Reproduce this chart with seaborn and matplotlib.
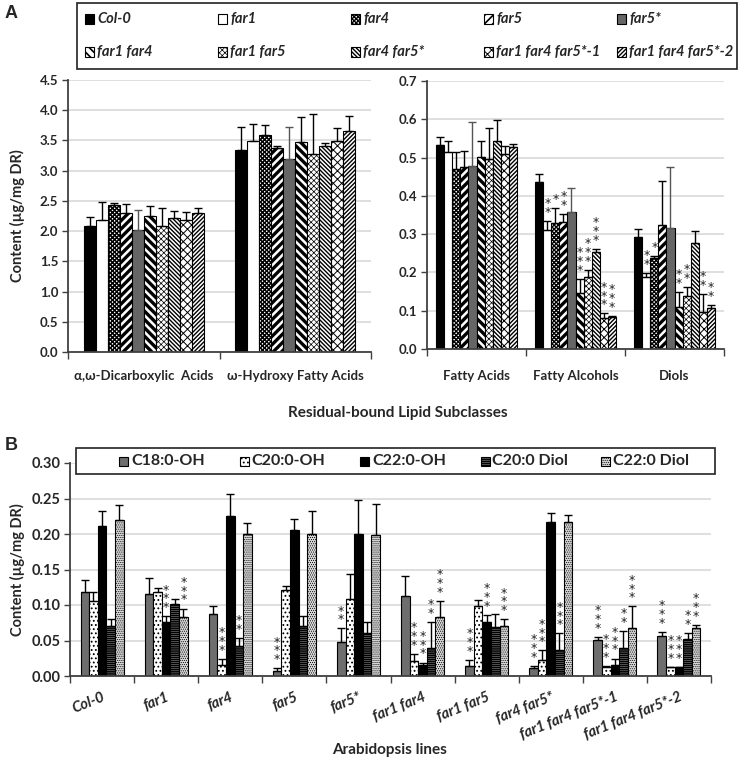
import matplotlib
matplotlib.use('Agg')
import matplotlib.pyplot as plt
import matplotlib.patches as mpatches
import seaborn as sns
import pandas as pd
import numpy as np

# ---- data -------------------------------------------------------------
lines = ['Col-0', 'far1', 'far4', 'far5', 'far5*', 'far1 far4', 'far1 far5',
         'far4 far5*', 'far1 far4 far5*-1', 'far1 far4 far5*-2']

# panel A, left: acids (µg/mg DR)
acid_classes = ['α,ω-Dicarboxylic  Acids', 'ω-Hydroxy Fatty Acids']
dca_mean = [2.09, 2.19, 2.43, 2.30, 2.02, 2.25, 2.09, 2.21, 2.18, 2.30]
dca_err = [0.14, 0.29, 0.04, 0.15, 0.33, 0.17, 0.30, 0.13, 0.13, 0.08]
hfa_mean = [3.34, 3.49, 3.59, 3.37, 3.20, 3.47, 3.27, 3.41, 3.49, 3.65]
hfa_err = [0.39, 0.29, 0.17, 0.03, 0.52, 0.42, 0.67, 0.04, 0.21, 0.25]

# panel A, right
other_classes = ['Fatty Acids', 'Fatty Alcohols', 'Diols']
fa_mean = [0.534, 0.514, 0.470, 0.475, 0.479, 0.502, 0.496, 0.544, 0.509, 0.528]
fa_err = [0.019, 0.030, 0.044, 0.043, 0.114, 0.040, 0.081, 0.053, 0.022, 0.008]
falc_mean = [0.436, 0.312, 0.329, 0.333, 0.357, 0.145, 0.187, 0.253, 0.080, 0.083]
falc_err = [0.021, 0.023, 0.039, 0.019, 0.063, 0.038, 0.020, 0.009, 0.013, 0.003]
falc_sig = ['', '**', '*', '**', '', '***', '***', '***', '***', '***']
diol_mean = [0.293, 0.188, 0.238, 0.325, 0.316, 0.110, 0.139, 0.276, 0.096, 0.108]
diol_err = [0.020, 0.010, 0.004, 0.115, 0.160, 0.039, 0.024, 0.031, 0.047, 0.007]
diol_sig = ['', '**', '*', '', '', '**', '**', '', '**', '**']
no_sig = [''] * 10

# panel B: one list per compound, values per Arabidopsis line
compounds = ['C18:0-OH', 'C20:0-OH', 'C22:0-OH', 'C20:0 Diol', 'C22:0 Diol']
c18_mean = [0.118, 0.116, 0.087, 0.0066, 0.048, 0.112, 0.014, 0.011, 0.051, 0.057]
c18_err = [0.017, 0.022, 0.011, 0.0044, 0.019, 0.029, 0.009, 0.003, 0.004, 0.005]
c18_sig = ['', '', '', '***', '**', '', '***', '***', '***', '***']
c20_mean = [0.105, 0.119, 0.016, 0.121, 0.108, 0.021, 0.098, 0.023, 0.013, 0.012]
c20_err = [0.013, 0.005, 0.008, 0.006, 0.035, 0.010, 0.009, 0.013, 0.001, 0.001]
c20_sig = ['', '', '***', '', '', '***', '', '***', '***', '***']
c22_mean = [0.211, 0.076, 0.226, 0.205, 0.200, 0.0156, 0.076, 0.217, 0.0156, 0.012]
c22_err = [0.022, 0.008, 0.030, 0.016, 0.048, 0.0034, 0.010, 0.013, 0.009, 0.0005]
c22_sig = ['', '***', '', '', '', '***', '***', '', '***', '***']
c20d_mean = [0.071, 0.101, 0.042, 0.070, 0.061, 0.039, 0.069, 0.036, 0.040, 0.052]
c20d_err = [0.009, 0.008, 0.011, 0.015, 0.015, 0.037, 0.018, 0.024, 0.023, 0.009]
c20d_sig = ['', '', '**', '', '', '**', '', '***', '**', '**']
c22d_mean = [0.220, 0.083, 0.200, 0.200, 0.199, 0.083, 0.070, 0.217, 0.068, 0.067]
c22d_err = [0.021, 0.012, 0.016, 0.032, 0.043, 0.023, 0.010, 0.010, 0.030, 0.005]
c22d_sig = ['', '***', '', '', '', '***', '***', '', '***', '***']

# ---- styles -------------------------------------------------------------
# facecolor, hatch, hatch linewidth
line_styles = {
    'Col-0': ('black', '', 1.0),
    'far1': ('white', '', 1.0),
    'far4': ('white', 'xxxxxxxx', 1.0),
    'far5': ('white', '////', 2.4),
    'far5*': ('#666666', '', 1.0),
    'far1 far4': ('white', '\\\\\\\\', 2.4),
    'far1 far5': ('white', 'xxxxxx', 0.5),
    'far4 far5*': ('white', '\\' * 8, 1.0),
    'far1 far4 far5*-1': ('white', 'xxxx', 0.7),
    'far1 far4 far5*-2': ('white', '/' * 8, 1.0),
}
comp_styles = {
    'C18:0-OH': ('#6e6e6e', '', 1.0),
    'C20:0-OH': ('white', '....', 0.8),
    'C22:0-OH': ('black', '', 1.0),
    'C20:0 Diol': ('#bdbdbd', '-' * 8, 1.2),
    'C22:0 Diol': ('#d9d9d9', '.' * 8, 0.5),
}

sns.set_style('white')
plt.rcParams['font.family'] = ['Lato', 'DejaVu Sans']
plt.rcParams['hatch.linewidth'] = 1.0

W, H = 740, 764
fig = plt.figure(figsize=(W / 100, H / 100), dpi=100)


def box(l, t, r, b):
    return [l / W, 1 - b / H, (r - l) / W, (b - t) / H]


def set_hatch(p, hatch, hlw):
    p.set_hatch(hatch)
    if hasattr(p, 'set_hatch_linewidth'):
        p.set_hatch_linewidth(hlw)


def draw_bars(ax, table, order, hue_order, styles, width):
    df = pd.DataFrame([(g, s, v[0]) for g in order for s, v in table[g].items()],
                      columns=['group', 'series', 'value'])
    pal = {k: styles[k][0] for k in hue_order}
    sns.barplot(data=df, x='group', y='value', hue='series', order=order,
                hue_order=hue_order, palette=pal, width=width, gap=0,
                saturation=1, errorbar=None, edgecolor='black', linewidth=0.8,
                legend=False, ax=ax)
    for cont, key in zip(ax.containers, hue_order):
        face, hatch, hlw = styles[key]
        xs, hs, es = [], [], []
        for p in cont.patches:
            set_hatch(p, hatch, hlw)
            cx = p.get_x() + p.get_width() / 2
            g = order[int(round(cx))]
            m, e, sig = table[g][key]
            xs.append(cx)
            hs.append(p.get_height())
            es.append(e)
            if sig:
                ax.annotate('\n'.join('*' * len(sig)), (cx, m + e), xytext=(0, 1.5),
                            textcoords='offset points', ha='center', va='bottom',
                            fontsize=9, linespacing=0.58,
                            family='DejaVu Sans', color='#222222')
        ax.errorbar(xs, hs, yerr=[np.zeros(len(es)), es], fmt='none',
                    ecolor='#555555' if face == '#666666' else 'black',
                    elinewidth=1, capsize=3, capthick=1, zorder=3)


def style_axes(ax, n, ymax, step, fmt, ysize):
    ax.set_xlim(-0.5, n - 0.5)
    ax.set_ylim(0, ymax)
    ax.set_yticks(np.arange(0, ymax + step / 2, step))
    ax.set_yticklabels([fmt.format(v) for v in np.arange(0, ymax + step / 2, step)],
                       fontsize=ysize, fontweight='bold')
    ax.set_xticks(np.arange(-0.5, n), minor=True)
    ax.tick_params(axis='x', which='major', length=0, pad=13)
    ax.tick_params(axis='x', which='minor', length=5, width=1, bottom=True, color='#404040')
    ax.tick_params(axis='y', length=4, width=1, left=True, color='#404040', pad=3)
    ax.yaxis.grid(True, color='#d9d9d9', lw=1.2)
    ax.set_axisbelow(True)
    for s in ['top', 'right']:
        ax.spines[s].set_visible(False)
    for s in ['left', 'bottom']:
        ax.spines[s].set_color('#404040')
        ax.spines[s].set_linewidth(1.3)
    ax.set_xlabel('')
    ax.set_ylabel('')


# ---- panel A, left ---------------------------------------------------------
tab_a1 = {
    acid_classes[0]: {l: (dca_mean[i], dca_err[i], no_sig[i]) for i, l in enumerate(lines)},
    acid_classes[1]: {l: (hfa_mean[i], hfa_err[i], no_sig[i]) for i, l in enumerate(lines)},
}
ax1 = fig.add_axes(box(68, 80, 371, 352))
draw_bars(ax1, tab_a1, acid_classes, lines, line_styles, 0.79)
style_axes(ax1, 2, 4.5, 0.5, '{:.1f}', 9.5)
ax1.set_xticks(range(2))
ax1.set_xticklabels(acid_classes, fontsize=9.5, fontweight='bold')

# ---- panel A, right --------------------------------------------------------
tab_a2 = {
    other_classes[0]: {l: (fa_mean[i], fa_err[i], no_sig[i]) for i, l in enumerate(lines)},
    other_classes[1]: {l: (falc_mean[i], falc_err[i], falc_sig[i]) for i, l in enumerate(lines)},
    other_classes[2]: {l: (diol_mean[i], diol_err[i], diol_sig[i]) for i, l in enumerate(lines)},
}
ax2 = fig.add_axes(box(427, 81, 724, 349))
draw_bars(ax2, tab_a2, other_classes, lines, line_styles, 0.81)
style_axes(ax2, 3, 0.7, 0.1, '{:.1f}', 9.5)
ax2.set_xticks(range(3))
ax2.set_xticklabels(other_classes, fontsize=9.5, fontweight='bold')
ax2.tick_params(axis='x', which='major', pad=15)

# ---- panel B ---------------------------------------------------------------
comp_data = [(c18_mean, c18_err, c18_sig), (c20_mean, c20_err, c20_sig),
             (c22_mean, c22_err, c22_sig), (c20d_mean, c20d_err, c20d_sig),
             (c22d_mean, c22d_err, c22d_sig)]
tab_b = {l: {c: (d[0][i], d[1][i], d[2][i]) for c, d in zip(compounds, comp_data)}
         for i, l in enumerate(lines)}
ax3 = fig.add_axes(box(70, 463, 711, 676))
draw_bars(ax3, tab_b, lines, compounds, comp_styles, 0.67)
style_axes(ax3, 10, 0.30, 0.05, '{:.2f}', 10.5)
ax3.set_xticks(range(10))
ax3.set_xticklabels(lines, fontsize=10.5, fontweight='bold', style='italic',
                    rotation=22, ha='right', rotation_mode='anchor')
ax3.tick_params(axis='x', which='major', pad=10)

# ---- texts -----------------------------------------------------------------
fig.text(11 / W, 1 - 13 / H, 'A', fontsize=13, fontweight='bold', ha='center', va='center',
         family='Liberation Sans')
fig.text(11 / W, 1 - 446 / H, 'B', fontsize=13, fontweight='bold', ha='center', va='center',
         family='Liberation Sans')
fig.text(17 / W, 1 - 216 / H, 'Content (µg/mg DR)', rotation=90, fontsize=10.5,
         fontweight='bold', ha='center', va='center')
fig.text(17 / W, 1 - 570 / H, 'Content (µg/mg DR)', rotation=90, fontsize=10.5,
         fontweight='bold', ha='center', va='center')
fig.text(398 / W, 1 - 413 / H, 'Residual-bound Lipid Subclasses', fontsize=11,
         fontweight='bold', ha='center', va='center')
fig.text(390 / W, 1 - 750 / H, 'Arabidopsis lines', fontsize=11,
         fontweight='bold', ha='center', va='center')


# ---- legends (boxes drawn by hand) ----------------------------------------
def legend_box(l, t, r, b):
    fig.add_artist(mpatches.Rectangle((l / W, 1 - b / H), (r - l) / W, (b - t) / H,
                                      transform=fig.transFigure, facecolor='white',
                                      edgecolor='#222222', lw=1.2, zorder=5))


def legend_item(x, y, label, style, size, fstyle):
    face, hatch, hlw = style
    sq = mpatches.Rectangle(((x) / W, 1 - (y + 4.5) / H), 9 / W, 9 / H,
                            transform=fig.transFigure, facecolor=face,
                            edgecolor='black', lw=0.8, zorder=6)
    set_hatch(sq, hatch, min(hlw, 1.2))
    fig.add_artist(sq)
    fig.text((x + 12) / W, 1 - y / H, label, fontsize=size, fontweight='bold',
             style=fstyle, ha='left', va='center', zorder=7)


legend_box(77, 3, 737, 69)
for i, l in enumerate(lines):
    row, col = divmod(i, 5)
    legend_item(85 + 133 * col, 19 + 33 * row, l, line_styles[l], 10.5, 'italic')

legend_box(76, 448, 715, 474)
for i, c in enumerate(compounds):
    legend_item(119 + 120.5 * i, 461, c, comp_styles[c], 11.5, 'normal')

fig.savefig('out.png', dpi=100)
